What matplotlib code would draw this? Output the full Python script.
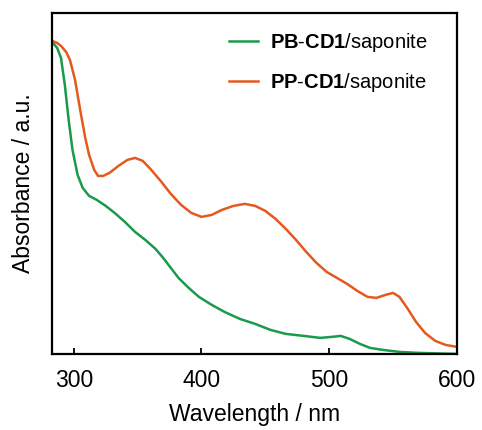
import matplotlib
matplotlib.use("Agg")
import matplotlib.pyplot as plt

plt.rcParams['font.family'] = ['Liberation Sans', 'DejaVu Sans']
plt.rcParams['mathtext.fontset'] = 'custom'
plt.rcParams['mathtext.rm'] = 'Liberation Sans'
plt.rcParams['mathtext.bf'] = 'Liberation Sans:bold'

# PP-CD1/saponite (orange) - wavelength (nm) and absorbance (a.u.)
pp_wl = [283, 287, 290, 294, 297, 301, 305, 309, 312, 316, 319, 323, 328, 335, 342, 348,
         354, 360, 368, 376, 384, 392, 400, 408, 416, 425, 434, 442, 450, 458, 466, 474,
         482, 490, 498, 506, 514, 522, 530, 537, 544, 550, 555, 561, 568, 575, 583, 591, 600]
pp_abs = [313, 311, 308, 302, 294, 274, 244, 216, 199, 184, 178, 178, 181, 188, 194, 196,
          193, 185, 173, 160, 149, 141, 137, 139, 144, 148, 150, 148, 143, 135, 125, 114,
          102, 91, 82, 76, 70, 63, 57, 56, 59, 61, 57, 46, 32, 21, 13, 9, 7]

# PB-CD1/saponite (green)
pb_wl = [283, 287, 290, 293, 296, 299, 303, 307, 312, 318, 325, 332, 340, 348, 356, 364,
         370, 376, 382, 390, 398, 408, 418, 430, 442, 454, 466, 480, 493, 502, 509, 516,
         524, 532, 542, 555, 570, 585, 600]
pb_abs = [312, 306, 296, 269, 234, 204, 179, 166, 158, 154, 148, 141, 132, 122, 114, 105,
          96, 86, 76, 66, 57, 49, 42, 35, 30, 24, 20, 18, 16, 17, 18, 15,
          10, 6, 4, 2, 1, 0.5, 0]

xticks = [300, 400, 500, 600]

fig = plt.figure(figsize=(4.82, 4.30), dpi=100)
ax = fig.add_axes([0.108, 0.177, 0.840, 0.793])

ax.plot(pb_wl, pb_abs, color='#1a9a4a', lw=1.8, label=r'$\mathbf{PB}$-$\mathbf{CD1}$/saponite')
ax.plot(pp_wl, pp_abs, color='#e5581e', lw=1.8, label=r'$\mathbf{PP}$-$\mathbf{CD1}$/saponite')

ax.set_xlim(283, 600)
ax.set_ylim(0, 341)
ax.set_xticks(xticks)
ax.set_yticks([])
ax.tick_params(axis='x', direction='in', length=4, width=1.3, labelsize=16.5, pad=11)
for s in ax.spines.values():
    s.set_linewidth(1.6)

ax.set_xlabel('Wavelength / nm', fontsize=16.5, labelpad=8)
ax.set_ylabel('Absorbance / a.u.', fontsize=16.5, labelpad=12)

leg = ax.legend(loc='upper left', frameon=False, fontsize=14.5, handlelength=1.45,
                handletextpad=0.6, labelspacing=0.85, borderpad=0, borderaxespad=0,
                bbox_to_anchor=(229 / 482, 1 - 31 / 430), bbox_transform=fig.transFigure)

fig.savefig('out.png', dpi=100)
